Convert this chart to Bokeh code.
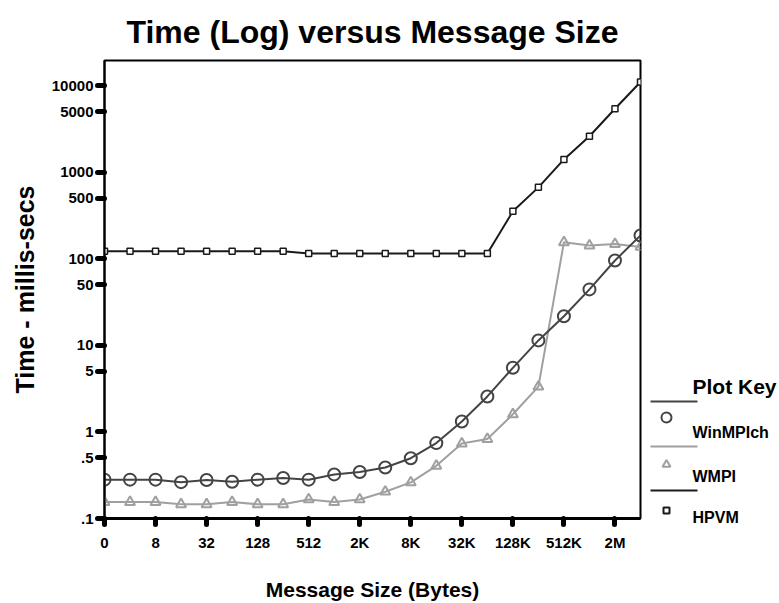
from bokeh.plotting import figure
from bokeh.models import Range1d, FixedTicker
from bokeh.layouts import row
from bokeh.embed import file_html
from bokeh.resources import INLINE
from bokeh.core.properties import value

# ---------------- data ----------------
x_index = list(range(22))
x_tick_pos = [0, 2, 4, 6, 8, 10, 12, 14, 16, 18, 20]
x_tick_labels = ["0", "8", "32", "128", "512", "2K", "8K", "32K", "128K", "512K", "2M"]

y_ticks = [0.1, 0.5, 1, 5, 10, 50, 100, 500, 1000, 5000, 10000]
y_tick_labels = [".1", ".5", "1", "5", "10", "50", "100", "500", "1000", "5000", "10000"]

winmpich = [0.281, 0.281, 0.281, 0.263, 0.278, 0.266, 0.281, 0.294, 0.281, 0.323, 0.344,
            0.388, 0.497, 0.743, 1.32, 2.57, 5.5, 11.4, 21.7, 44.3, 95.5, 186]
wmpi = [0.155, 0.155, 0.155, 0.146, 0.146, 0.155, 0.146, 0.146, 0.166, 0.155, 0.166,
        0.204, 0.261, 0.406, 0.735, 0.828, 1.6, 3.33, 155, 142, 148, 137]
hpvm = [122, 122, 122, 122, 122, 122, 122, 122, 115, 115, 115,
        115, 115, 115, 115, 115, 353, 668, 1404, 2600, 5400, 11000]

series_names = ["WinMPIch", "WMPI", "HPVM"]

FONT = "Liberation Sans"
C_WIN = "#444444"
C_WMPI = "#a0a0a0"
C_HPVM = "#1a1a1a"

# ---------------- main figure ----------------
p = figure(width=648, height=603, y_axis_type="log",
           x_range=Range1d(0, 21), y_range=Range1d(0.1, 19500),
           toolbar_location=None, output_backend="svg",
           min_border_left=104, min_border_right=8, min_border_top=60, min_border_bottom=83)

p.title.text = "Time (Log) versus Message Size"
p.title.align = "center"
p.title.text_font = FONT
p.title.text_font_size = "32px"
p.title.text_font_style = "bold"
p.title.text_color = "black"
p.title.standoff = 21

p.grid.visible = False
p.outline_line_color = "black"
p.outline_line_width = 2
p.background_fill_color = "white"
p.border_fill_color = "white"

# x axis
xa = p.xaxis[0]
xa.ticker = FixedTicker(ticks=x_tick_pos)
xa.major_label_overrides = dict(zip(x_tick_pos, x_tick_labels))
xa.minor_tick_line_color = None
xa.major_tick_in = 0
xa.major_tick_out = 6
xa.major_tick_line_width = 5
xa.major_tick_line_cap = "round"
xa.axis_line_width = 3
xa.major_label_standoff = 9
xa.major_label_text_font = FONT
xa.major_label_text_font_size = "15px"
xa.major_label_text_font_style = "bold"
xa.major_label_text_color = "black"
xa.axis_label = "Message Size (Bytes)"
xa.axis_label_text_font = FONT
xa.axis_label_text_font_size = "21px"
xa.axis_label_text_font_style = "bold"
xa.axis_label_text_color = "black"
xa.axis_label_standoff = 24

# y axis
ya = p.yaxis[0]
ya.ticker = FixedTicker(ticks=y_ticks)
ya.major_label_overrides = dict(zip(y_ticks, y_tick_labels))
ya.minor_tick_line_color = None
ya.major_tick_in = 0
ya.major_tick_out = 7
ya.major_tick_line_width = 5
ya.major_tick_line_cap = "round"
ya.axis_line_width = 2
ya.major_label_standoff = 4
ya.major_label_text_font = FONT
ya.major_label_text_font_size = "15px"
ya.major_label_text_font_style = "bold"
ya.major_label_text_color = "black"
ya.axis_label = "Time - millis-secs"
ya.axis_label_text_font = FONT
ya.axis_label_text_font_size = "25px"
ya.axis_label_text_font_style = "bold"
ya.axis_label_text_color = "black"
ya.axis_label_standoff = 10

# series
p.line(x_index, hpvm, line_color=C_HPVM, line_width=2)
p.scatter(x_index, hpvm, marker="square", size=6, fill_color="white",
          line_color=C_HPVM, line_width=1.5)

p.line(x_index, wmpi, line_color=C_WMPI, line_width=2)
p.scatter(x_index, wmpi, marker="triangle", size=10, fill_color=None,
          line_color=C_WMPI, line_width=2)

p.line(x_index, winmpich, line_color=C_WIN, line_width=2)
p.scatter(x_index, winmpich, marker="circle", size=12, fill_color=None,
          line_color=C_WIN, line_width=2)

# ---------------- legend panel (its own full-height frame) ----------------
lg = figure(width=131, height=603, x_range=Range1d(0, 131), y_range=Range1d(603, 0),
            toolbar_location=None, output_backend="svg",
            x_axis_location=None, y_axis_location=None, min_border=0)
lg.title.text = ""
lg.grid.visible = False
lg.outline_line_color = None
lg.background_fill_color = "white"
lg.border_fill_color = "white"
for fig in (p, lg):
    try:
        fig.frame_align = False
    except Exception:
        pass

lg.text([44], [386], text=["Plot Key"], text_font=value(FONT), text_font_size="21px",
        text_font_style="bold", text_baseline="alphabetic", text_color="black")

leg_colors = [C_WIN, C_WMPI, C_HPVM]
leg_markers = ["circle", "triangle", "square"]
leg_sizes = [10, 8, 6]
leg_fills = [None, None, "white"]
leg_line_y = [401, 446, 490]
leg_marker_y = [417, 464, 510]
leg_text_y = [432, 476, 517]

for name, col, mk, sz, fc, ly, my, ty in zip(series_names, leg_colors, leg_markers, leg_sizes,
                                             leg_fills, leg_line_y, leg_marker_y, leg_text_y):
    lg.line([2, 49], [ly, ly], line_color=col, line_width=2)
    lg.scatter([18], [my], marker=mk, size=sz, fill_color=fc, line_color=col, line_width=2)
    lg.text([44], [ty], text=[name], text_font=value(FONT), text_font_size="16px",
            text_font_style="bold", text_baseline="middle", text_color="black")

layout = row(p, lg)
open("out.html", "w").write(file_html(layout, INLINE))
